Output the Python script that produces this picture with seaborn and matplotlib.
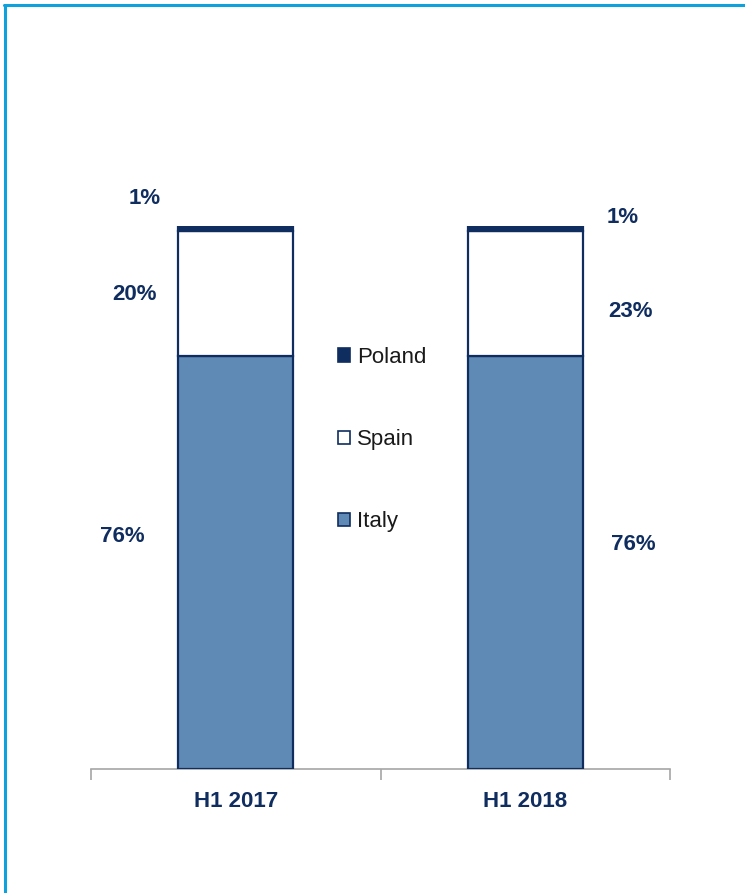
import matplotlib
matplotlib.use("Agg")
import matplotlib.pyplot as plt
from matplotlib.patches import Patch
from matplotlib.lines import Line2D
import seaborn as sns
import numpy as np

sns.set_theme(style="white")
plt.rcParams['font.family'] = ['Liberation Sans', 'DejaVu Sans']

categories = ["H1 2017", "H1 2018"]
italy = [76, 76]
spain = [23, 23]
poland = [1, 1]
series_names = ["Italy", "Spain", "Poland"]
italy_labels = ["76%", "76%"]
spain_labels = ["20%", "23%"]
poland_labels = ["1%", "1%"]

navy = "#0f2d5f"
steel = "#5f8ab5"
frame_blue = "#0ea2dc"

fig = plt.figure(figsize=(7.45, 8.93), dpi=100)
ax = fig.add_axes([91/745, 1-769/893, (670-91)/745, (769-226)/893])

italy_a = np.array(italy)
spain_a = np.array(spain)
poland_a = np.array(poland)

common = dict(width=0.397, edgecolor=navy, linewidth=1.6, ax=ax, saturation=1)
sns.barplot(x=categories, y=italy, color=steel, **common)
sns.barplot(x=categories, y=spain, bottom=italy_a, color="white", **common)
sns.barplot(x=categories, y=poland, bottom=italy_a + spain_a, color=navy, **common)

ax.set_xlim(-0.5, 1.5)
ax.set_ylim(0, 100)
ax.set_yticks([])
ax.set_ylabel("")
for s in ["top", "right", "left"]:
    ax.spines[s].set_visible(False)
ax.spines["bottom"].set_color("#a6a6a6")
ax.spines["bottom"].set_linewidth(1.2)
ax.spines["bottom"].set_zorder(0)

ax.set_xticks([0, 1])
ax.set_xticklabels(categories, fontsize=16, fontweight="bold", color=navy)
ax.tick_params(axis="x", which="major", bottom=False, length=0, pad=16)
ax.set_xticks([-0.5, 0.5, 1.5], minor=True)
ax.tick_params(axis="x", which="minor", bottom=True, length=8, width=1.2,
               color="#a6a6a6", direction="out")

# value labels
label_pos = {
    0: [(-0.313, 105.0), (-0.351, 87.3), (-0.393, 42.9)],
    1: [(1.338, 101.5), (1.362, 84.3), (1.372, 41.3)],
}
for i in range(2):
    texts = [poland_labels[i], spain_labels[i], italy_labels[i]]
    for (x, y), t in zip(label_pos[i], texts):
        ax.text(x, y, t, ha="center", va="center", fontsize=16, fontweight="bold",
                color=navy, clip_on=False)

handles = [Patch(facecolor=navy, edgecolor=navy, linewidth=1.2),
           Patch(facecolor="white", edgecolor=navy, linewidth=1.2),
           Patch(facecolor=steel, edgecolor=navy, linewidth=1.2)]
leg = fig.legend(handles, ["Poland", "Spain", "Italy"], loc="upper left",
                 bbox_to_anchor=(338/745, 1-347/893), frameon=False,
                 fontsize=16, handlelength=0.55, handleheight=0.55,
                 handletextpad=0.3, labelspacing=2.75, borderpad=0, borderaxespad=0)
for t in leg.get_texts():
    t.set_color("#1a1a1a")

# frame lines
fig.add_artist(Line2D([4/745, 1], [1-5/893, 1-5/893], transform=fig.transFigure,
                      color=frame_blue, linewidth=2.2))
fig.add_artist(Line2D([5/745, 5/745], [0, 1-5/893], transform=fig.transFigure,
                      color=frame_blue, linewidth=2.2))

fig.savefig("out.png", dpi=100)
